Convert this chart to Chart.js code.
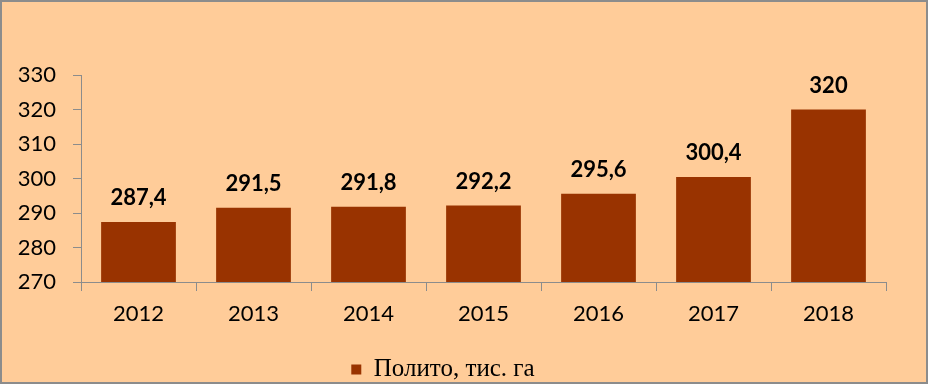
<!DOCTYPE html>
<html>
<head>
<meta charset="utf-8">
<script src="https://cdn.jsdelivr.net/npm/chart.js@4"></script>
<style>
  html, body { margin: 0; padding: 0; background: #FFCC99; }
  #wrap { width: 928px; height: 384px; position: relative; }
</style>
</head>
<body>
<div id="wrap"><canvas id="chart"></canvas></div>
<script>
const years = ['2012', '2013', '2014', '2015', '2016', '2017', '2018'];
const irrigated = [287.4, 291.5, 291.8, 292.2, 295.6, 300.4, 320];
const seriesName = 'Полито, тис. га';
const yTicks = [270, 280, 290, 300, 310, 320, 330];

// background + outer frame
const framePlugin = {
    id: 'frame',
    beforeDraw(chart) {
        const { ctx, width, height } = chart;
        ctx.save();
        ctx.fillStyle = '#FFCC99';
        ctx.fillRect(0, 0, width, height);
        ctx.restore();
    },
    afterDraw(chart) {
        const { ctx, width, height } = chart;
        ctx.save();
        ctx.strokeStyle = '#8c8c8c';
        ctx.lineWidth = 2;
        ctx.strokeRect(1, 1, width - 2, height - 2);
        ctx.restore();
    }
};

// value labels above bars
const valueLabels = {
    id: 'valueLabels',
    afterDatasetsDraw(chart) {
        const { ctx } = chart;
        const meta = chart.getDatasetMeta(0);
        ctx.save();
        ctx.font = 'bold 22px Lato';
        ctx.fillStyle = '#000';
        ctx.textAlign = 'center';
        ctx.textBaseline = 'middle';
        meta.data.forEach((bar, i) => {
            const txt = String(irrigated[i]).replace('.', ',');
            ctx.fillText(txt, bar.x, bar.y - 24);
        });
        ctx.restore();
    }
};

new Chart(document.getElementById('chart'), {
    type: 'bar',
    data: {
        labels: years,
        datasets: [{
            label: seriesName,
            data: irrigated,
            backgroundColor: '#993300',
            borderWidth: 0,
            barPercentage: 0.65,
            categoryPercentage: 1
        }]
    },
    options: {
        responsive: true, maintainAspectRatio: false, animation: false,
        layout: { padding: { left: 0, right: 42, top: 75, bottom: -8 } },
        scales: {
            x: {
                grid: { offset: true, drawOnChartArea: false, color: '#8c8c8c', tickLength: 9 },
                border: { color: '#8c8c8c', width: 1 },
                ticks: { color: '#000', font: { family: 'Lato', size: 22 }, padding: 10 },
                afterFit: (s) => { s.height = 75; }
            },
            y: {
                min: 270, max: 330,
                afterBuildTicks: (s) => { s.ticks = yTicks.map(v => ({ value: v })); },
                grid: { drawOnChartArea: false, color: '#8c8c8c', tickLength: 8 },
                border: { color: '#8c8c8c', width: 1 },
                ticks: { color: '#000', font: { family: 'Lato', size: 22 }, padding: 17 },
                afterFit: (s) => { s.width = 81; }
            }
        },
        plugins: {
            legend: {
                position: 'bottom',
                labels: {
                    color: '#000',
                    font: { family: 'Liberation Serif', size: 25 },
                    boxWidth: 10, boxHeight: 10, padding: 0
                }
            },
            tooltip: { enabled: false }
        }
    },
    plugins: [framePlugin, valueLabels]
});
</script>
</body>
</html>
